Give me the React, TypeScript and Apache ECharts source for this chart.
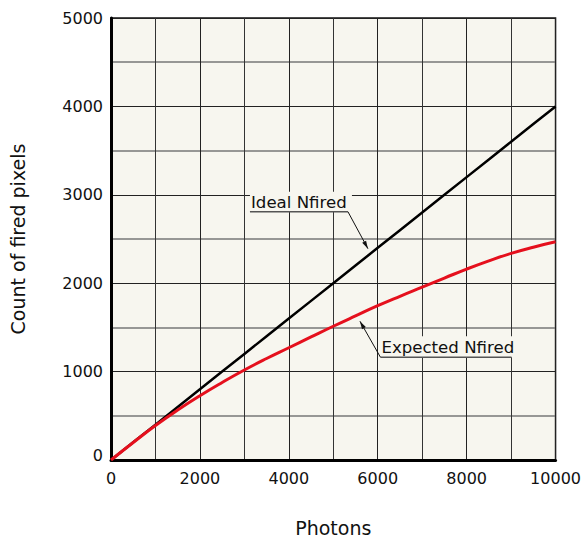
import React, { useEffect, useRef } from "react";
import * as echarts from "echarts";

const photons = [0, 500, 1000, 1500, 2000, 2500, 3000, 3500, 4000, 4500, 5000, 5500, 6000, 6500, 7000, 7500, 8000, 8500, 9000, 9500, 10000];
const idealNfired = [0, 200, 400, 600, 800, 1000, 1200, 1400, 1600, 1800, 2000, 2200, 2400, 2600, 2800, 3000, 3200, 3400, 3600, 3800, 4000];
const expectedNfired = [0, 198, 390, 565, 727, 877, 1018, 1148, 1270, 1392, 1513, 1630, 1745, 1852, 1955, 2058, 2160, 2253, 2337, 2407, 2468];

const idealLabel = "Ideal Nfired";
const expectedLabel = "Expected Nfired";
const idealArrowTip = [5780, 2390];
const expectedArrowTip = [5600, 1570];

const FONT = "DejaVu Sans, Verdana, sans-serif";
const BG = "#f7f6ef";

function arrowHead(tip: number[], from: number[]) {
  const dx = tip[0] - from[0];
  const dy = tip[1] - from[1];
  const len = Math.sqrt(dx * dx + dy * dy) || 1;
  const ux = dx / len, uy = dy / len;
  const L = 8, W = 2.2;
  const bx = tip[0] - ux * L, by = tip[1] - uy * L;
  return [tip, [bx - uy * W, by + ux * W], [bx + uy * W, by - ux * W]];
}

export default function App() {
  const ref = useRef<HTMLDivElement>(null);
  useEffect(() => {
    if (!ref.current) return;
    const chart = echarts.init(ref.current, undefined, { renderer: "svg" });
    chart.setOption({
      animation: false,
      backgroundColor: "#ffffff",
      grid: {
        left: 111, right: 28, top: 18, bottom: 79,
        show: true, backgroundColor: BG, borderColor: "#111", borderWidth: 1.5,
      },
      xAxis: {
        type: "value", min: 0, max: 10000, interval: 2000,
        name: "Photons", nameLocation: "middle", nameGap: 58,
        nameTextStyle: { fontFamily: FONT, fontSize: 19, color: "#111" },
        axisLine: { show: true, onZero: false, lineStyle: { color: "#000", width: 3 } },
        axisTick: { show: false },
        axisLabel: { fontFamily: FONT, fontSize: 16, color: "#111", margin: 10, formatter: (v: number) => String(v) },
        splitLine: { show: true, lineStyle: { color: "#222", width: 1 } },
        minorTick: { show: false, splitNumber: 2 },
        minorSplitLine: { show: true, lineStyle: { color: "#333", width: 1 } },
      },
      yAxis: {
        type: "value", min: 0, max: 5000, interval: 1000,
        name: "Count of fired pixels", nameLocation: "middle", nameGap: 84,
        nameTextStyle: { fontFamily: FONT, fontSize: 19, color: "#111" },
        axisLine: { show: true, onZero: false, lineStyle: { color: "#000", width: 3 } },
        axisTick: { show: false },
        axisLabel: {
          fontFamily: FONT, fontSize: 16, color: "#111", margin: 8,
          formatter: (v: number) => (v === 0 ? "{z|0}" : String(v)),
          rich: { z: { fontFamily: FONT, fontSize: 16, color: "#111", padding: [0, 0, 10, 0] } },
        },
        splitLine: { show: true, lineStyle: { color: "#222", width: 1 } },
        minorTick: { show: false, splitNumber: 2 },
        minorSplitLine: { show: true, lineStyle: { color: "#777", width: 1.5 } },
      },
      series: [
        {
          name: idealLabel, type: "line", symbol: "none", z: 3,
          data: photons.map((p, i) => [p, idealNfired[i]]),
          lineStyle: { color: "#000", width: 2.5 },
        },
        {
          name: expectedLabel, type: "line", symbol: "none", smooth: 0.5, z: 4,
          data: photons.map((p, i) => [p, expectedNfired[i]]),
          lineStyle: { color: "#e5101d", width: 3 },
        },
      ],
    });

    const tA = chart.convertToPixel({ gridIndex: 0 }, idealArrowTip) as number[];
    const tB = chart.convertToPixel({ gridIndex: 0 }, expectedArrowTip) as number[];
    const wA = 98, wB = 131;
    const uA = [tA[0] - 20, tA[1] - 37];
    const uB = [tB[0] + 20.5, tB[1] + 36];
    const labelFont = `16.6px ${FONT}`;

    const elems: any[] = [];
    elems.push({ type: "rect", z: 10, shape: { x: uA[0] - wA, y: uA[1] - 20, width: wA + 4, height: 20 }, style: { fill: BG } });
    elems.push({ type: "text", z: 11, x: uA[0] - wA + 1, y: uA[1] - 9, style: { text: idealLabel, font: labelFont, fill: "#111", verticalAlign: "middle", textAlign: "left" } });
    elems.push({ type: "line", z: 11, shape: { x1: uA[0] - wA, y1: uA[1], x2: uA[0], y2: uA[1] }, style: { stroke: "#555", lineWidth: 1.5 } });
    elems.push({ type: "line", z: 11, shape: { x1: uA[0], y1: uA[1], x2: tA[0], y2: tA[1] }, style: { stroke: "#111", lineWidth: 1 } });
    elems.push({ type: "polygon", z: 11, shape: { points: arrowHead(tA, uA) }, style: { fill: "#111" } });
    elems.push({ type: "rect", z: 10, shape: { x: uB[0], y: uB[1] - 21, width: wB + 2, height: 21 }, style: { fill: BG } });
    elems.push({ type: "text", z: 11, x: uB[0] + 1, y: uB[1] - 10, style: { text: expectedLabel, font: labelFont, fill: "#111", verticalAlign: "middle", textAlign: "left" } });
    elems.push({ type: "line", z: 11, shape: { x1: uB[0], y1: uB[1], x2: uB[0] + wB, y2: uB[1] }, style: { stroke: "#555", lineWidth: 1.5 } });
    elems.push({ type: "line", z: 11, shape: { x1: uB[0], y1: uB[1], x2: tB[0], y2: tB[1] }, style: { stroke: "#111", lineWidth: 1 } });
    elems.push({ type: "polygon", z: 11, shape: { points: arrowHead(tB, uB) }, style: { fill: "#111" } });

    chart.setOption({ graphic: { elements: elems } });
    return () => chart.dispose();
  }, []);
  return <div ref={ref} style={{ position: "fixed", left: 0, top: 0, width: 584, height: 542 }} />;
}
